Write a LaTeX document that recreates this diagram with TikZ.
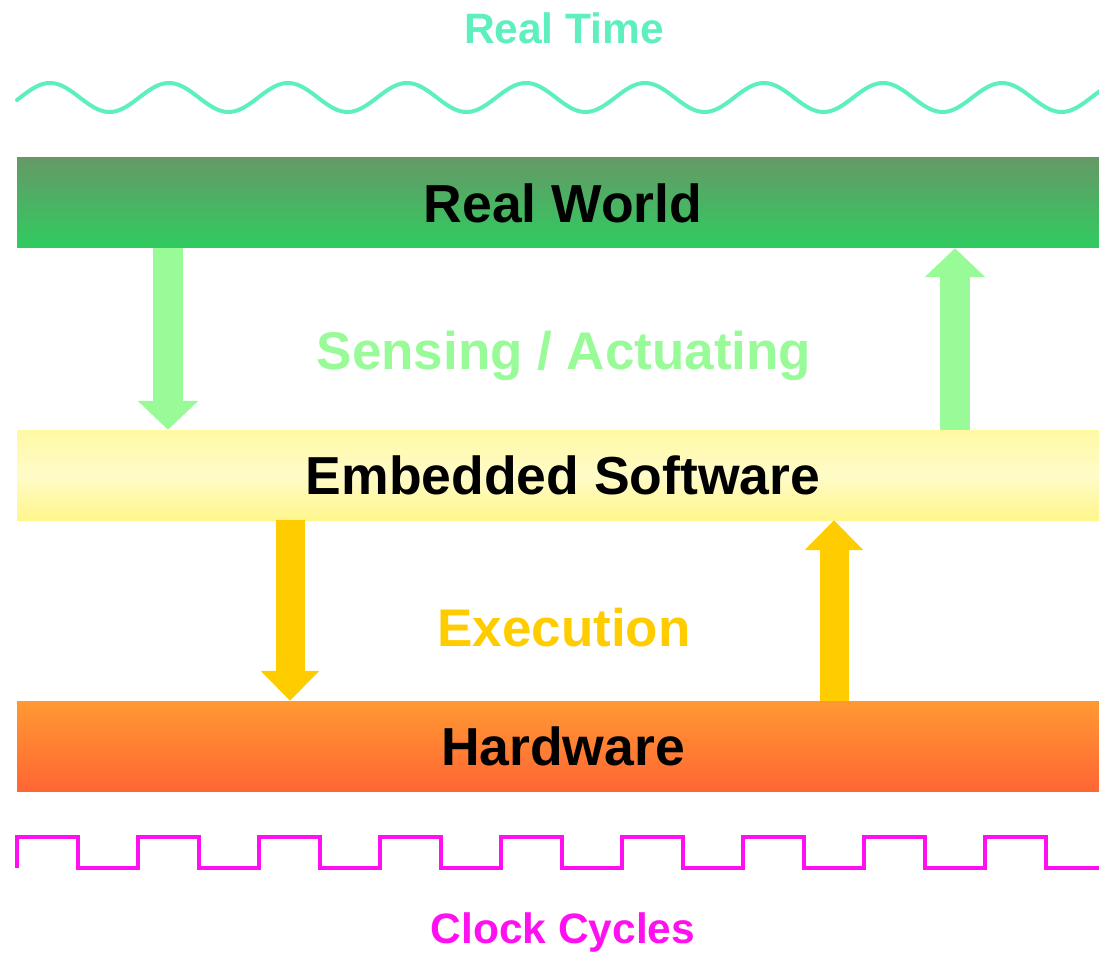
\documentclass[tikz,border=0pt]{standalone}
\usepackage{fontspec}
\setmainfont{Liberation Sans}
\usetikzlibrary{arrows.meta}

\definecolor{timecol}{HTML}{5EEFBE}
\definecolor{clockcol}{HTML}{FF10F0}
\definecolor{senscol}{HTML}{98FB98}
\definecolor{execcol}{HTML}{FFCC00}
\definecolor{rwtop}{HTML}{659966}
\definecolor{rwbot}{HTML}{30CC60}
\definecolor{estop}{HTML}{FFF9A4}
\definecolor{esmid}{HTML}{FFFBC8}
\definecolor{esbot}{HTML}{FFF68C}
\definecolor{hwtop}{HTML}{FF9933}
\definecolor{hwbot}{HTML}{FF6633}

\tikzset{
  layer/.style={rectangle, inner sep=0pt, minimum width=1092pt, minimum height=90pt,
    font=\fontsize{53.5}{60}\selectfont\bfseries, text=black},
  midlabel/.style={font=\fontsize{53}{60}\selectfont\bfseries},
  sidelabel/.style={font=\fontsize{42.5}{48}\selectfont\bfseries},
  greenflow/.style={draw=senscol, line width=30pt,
    -{Triangle[width=59pt,length=29pt]}},
  yellowflow/.style={draw=execcol, line width=29pt,
    -{Triangle[width=57pt,length=30pt]}},
}

\begin{document}
\begin{tikzpicture}[x=1pt,y=-1pt]
  \useasboundingbox (0,0) rectangle (1099,957);
  \clip (0,0) rectangle (1099,957);

  % layers (they run on past the right edge)
  \node[layer, top color=rwtop, bottom color=rwbot] (rw) at (563,203) {Real World};
  \node[layer, top color=estop, bottom color=esbot, middle color=esmid] (es) at (563,475) {Embedded Software};
  \node[layer, top color=hwtop, bottom color=hwbot] (hw) at (563,746) {Hardware};

  % labels
  \node[sidelabel, text=timecol] (rt) at (564,28) {Real Time};
  \node[midlabel, text=senscol] (sa) at (564,356) {Sensing / Actuating};
  \node[midlabel, text=execcol] (ex) at (564,628) {Execution};
  \node[sidelabel, text=clockcol] (cc) at (563,933) {Clock Cycles};

  % columns for the flow arrows
  \coordinate (c1) at (168,0);
  \coordinate (c2) at (955,0);
  \coordinate (c3) at (290,0);
  \coordinate (c4) at (834,0);

  \draw[greenflow] (rw.south -| c1) -- (es.north -| c1);
  \draw[greenflow] (es.north -| c2) -- (rw.south -| c2);
  \draw[yellowflow] (es.south -| c3) -- (hw.north -| c3);
  \draw[yellowflow] (hw.north -| c4) -- (es.south -| c4);

  % real-time wave
  \draw[timecol, line width=4pt, line cap=round]
    plot[domain=17:1110, samples=400, smooth] (\x, {97.5 - 14.5*sin(3.02521*(\x-20.25))});

  % clock signal
  \draw[clockcol, line width=4pt, line join=miter]
    (17,868)
    \foreach \k in {0,...,8} {
      -- ({17+121*\k},868) -- ({17+121*\k},837) -- ({78+121*\k},837) -- ({78+121*\k},868)
    } -- (1110,868);
\end{tikzpicture}
\end{document}
